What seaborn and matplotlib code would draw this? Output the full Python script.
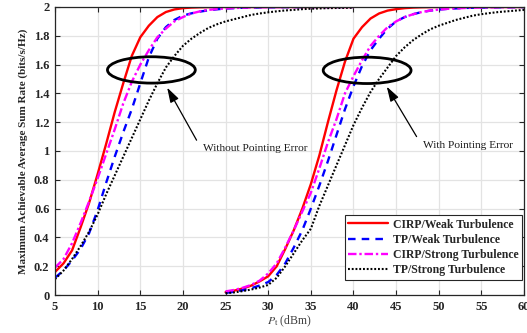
import numpy as np
import pandas as pd
import matplotlib
matplotlib.use("Agg")
import matplotlib.pyplot as plt
from matplotlib.patches import Ellipse
import seaborn as sns

# Transmit power grids (dBm)
pt_no_pe = list(range(5, 41))
pt_pe = list(range(25, 61))

# Achievable sum rate without pointing error (bits/s/Hz)
cirp_weak_no_pe = [0.16, 0.22, 0.31, 0.47, 0.64, 0.84, 1.05, 1.27, 1.47, 1.66, 1.79, 1.87,
                   1.93, 1.965, 1.983, 1.992, 1.996, 1.998, 1.999, 2.0, 2.0, 2.0, 2.0, 2.0,
                   2.0, 2.0, 2.0, 2.0, 2.0, 2.0, 2.0, 2.0, 2.0, 2.0, 2.0, 2.0]
tp_weak_no_pe = [0.12, 0.17, 0.24, 0.32, 0.43, 0.59, 0.78, 0.96, 1.13, 1.29, 1.47, 1.65,
                 1.78, 1.86, 1.91, 1.94, 1.956, 1.968, 1.977, 1.984, 1.989, 1.992, 1.995,
                 1.996, 1.997, 1.998, 1.998, 1.999, 1.999, 1.999, 2.0, 2.0, 2.0, 2.0, 2.0, 2.0]
cirp_strong_no_pe = [0.19, 0.25, 0.36, 0.50, 0.65, 0.81, 0.98, 1.15, 1.33, 1.48, 1.60, 1.70,
                     1.79, 1.85, 1.90, 1.93, 1.955, 1.97, 1.98, 1.986, 1.99, 1.993, 1.995,
                     1.997, 1.998, 1.998, 1.999, 1.999, 1.999, 2.0, 2.0, 2.0, 2.0, 2.0, 2.0, 2.0]
tp_strong_no_pe = [0.11, 0.17, 0.25, 0.34, 0.44, 0.56, 0.70, 0.83, 0.96, 1.09, 1.22, 1.35,
                   1.47, 1.58, 1.66, 1.73, 1.78, 1.82, 1.855, 1.88, 1.90, 1.915, 1.93, 1.945,
                   1.955, 1.963, 1.97, 1.976, 1.98, 1.985, 1.988, 1.99, 1.992, 1.993, 1.994, 1.995]

# Achievable sum rate with pointing error (bits/s/Hz)
cirp_weak_pe = [0.02, 0.03, 0.045, 0.065, 0.095, 0.13, 0.20, 0.32, 0.45, 0.60, 0.77, 0.97,
                1.20, 1.42, 1.62, 1.78, 1.86, 1.92, 1.955, 1.975, 1.985, 1.992, 1.996, 1.998,
                1.999, 2.0, 2.0, 2.0, 2.0, 2.0, 2.0, 2.0, 2.0, 2.0, 2.0, 2.0]
tp_weak_pe = [0.015, 0.022, 0.033, 0.047, 0.066, 0.09, 0.14, 0.22, 0.33, 0.45, 0.60, 0.76,
              0.93, 1.11, 1.29, 1.45, 1.59, 1.70, 1.78, 1.85, 1.90, 1.93, 1.95, 1.965, 1.975,
              1.982, 1.987, 1.99, 1.993, 1.995, 1.996, 1.997, 1.998, 1.998, 1.999, 1.999]
cirp_strong_pe = [0.025, 0.035, 0.05, 0.07, 0.10, 0.15, 0.22, 0.33, 0.45, 0.58, 0.71, 0.88,
                  1.06, 1.22, 1.40, 1.52, 1.63, 1.73, 1.80, 1.86, 1.90, 1.93, 1.95, 1.965,
                  1.975, 1.982, 1.987, 1.99, 1.993, 1.995, 1.996, 1.997, 1.998, 1.998, 1.999, 1.999]
tp_strong_pe = [0.012, 0.018, 0.027, 0.038, 0.052, 0.07, 0.12, 0.20, 0.29, 0.38, 0.46, 0.62,
                0.76, 0.90, 1.04, 1.18, 1.30, 1.41, 1.50, 1.58, 1.66, 1.72, 1.77, 1.81, 1.845,
                1.87, 1.89, 1.91, 1.925, 1.94, 1.95, 1.958, 1.965, 1.97, 1.975, 1.98]

labels = ["CIRP/Weak Turbulence", "TP/Weak Turbulence",
          "CIRP/Strong Turbulence", "TP/Strong Turbulence"]

series = {
    labels[0]: (cirp_weak_no_pe, cirp_weak_pe),
    labels[1]: (tp_weak_no_pe, tp_weak_pe),
    labels[2]: (cirp_strong_no_pe, cirp_strong_pe),
    labels[3]: (tp_strong_no_pe, tp_strong_pe),
}

rows = []
for name, (no_pe, pe) in series.items():
    for p, r in zip(pt_no_pe, no_pe):
        rows.append({"Pt": p, "rate": r, "scheme": name, "case": "no_pe"})
    for p, r in zip(pt_pe, pe):
        rows.append({"Pt": p, "rate": r, "scheme": name, "case": "pe"})
df = pd.DataFrame(rows)

styles = {
    labels[0]: dict(color="#ff0000", linestyle="-", linewidth=1.7),
    labels[1]: dict(color="#0000ff", linestyle=(0, (3.2, 2.6)), linewidth=1.7),
    labels[2]: dict(color="#ff00ff", linestyle=(0, (3.6, 1.2, 1.0, 1.2)), linewidth=1.7),
    labels[3]: dict(color="#000000", linestyle=(0, (0.9, 0.9)), linewidth=1.5),
}

sns.set_style("whitegrid")
plt.rcParams["font.family"] = ["Liberation Serif", "DejaVu Serif"]
plt.rcParams["mathtext.fontset"] = "stix"

fig = plt.figure(figsize=(5.27, 3.33), dpi=100)
ax = fig.add_axes([0.1044, 0.1141, 0.890, 0.8649])

handles = []
for name in labels:
    for case in ["no_pe", "pe"]:
        sub = df[(df["scheme"] == name) & (df["case"] == case)]
        sns.lineplot(data=sub, x="Pt", y="rate", ax=ax, estimator=None,
                     sort=True, legend=False, **styles[name])
    handles.append(ax.lines[-1])

ax.set_xlim(5, 60)
ax.set_ylim(0, 2)
ax.set_xticks(np.arange(5, 61, 5))
ax.set_yticks(np.round(np.arange(0, 2.01, 0.2), 1))
ax.set_yticklabels(["0", "0.2", "0.4", "0.6", "0.8", "1", "1.2", "1.4", "1.6", "1.8", "2"])

ax.grid(True, color="#e3e3e3", linewidth=0.9)
ax.set_facecolor("white")
for sp in ax.spines.values():
    sp.set_color("#262626")
    sp.set_linewidth(0.9)
    sp.set_visible(True)

ax.tick_params(axis="both", which="both", direction="in", length=3.5, width=0.8,
               top=True, right=True, bottom=True, left=True, color="#262626",
               labelsize=9, pad=4, labelcolor="#262626")
for lab in ax.get_xticklabels() + ax.get_yticklabels():
    lab.set_fontweight("bold")

ax.set_xlabel(r"$P_{\mathrm{t}}$ (dBm)", fontsize=8.5, color="#404040", labelpad=1)
ax.set_ylabel("Maximum Achievable Average Sum Rate (bits/s/Hz)", fontsize=8,
              fontweight="bold", color="#262626", labelpad=4)

# Ellipses grouping the curves, with arrows and captions
for cx, cy in [(16.3, 1.563), (41.6, 1.56)]:
    ax.add_patch(Ellipse((cx, cy), 10.3, 0.183, fill=False, edgecolor="black",
                         linewidth=2.0, zorder=5))

arrow_style = dict(arrowstyle="-|>,head_length=0.9,head_width=0.28",
                   color="black", lw=0.9, shrinkA=0, shrinkB=0)
ax.annotate("", xy=(18.15, 1.44), xytext=(21.6, 1.075), arrowprops=arrow_style, zorder=6)
ax.text(22.3, 1.02, "Without Pointing Error", fontsize=8.2, ha="left", va="center",
        color="#1a1a1a")
ax.annotate("", xy=(43.9, 1.447), xytext=(47.4, 1.10), arrowprops=arrow_style, zorder=6)
ax.text(48.1, 1.04, "With Pointing Error", fontsize=8.2, ha="left", va="center",
        color="#1a1a1a")

leg = ax.legend(handles, labels, loc="lower right", bbox_to_anchor=(0.996, 0.052),
                borderaxespad=0, fancybox=False, framealpha=1, edgecolor="#262626",
                prop={"weight": "bold", "size": 8.5}, handlelength=3.4,
                labelspacing=0.28, borderpad=0.3, handletextpad=0.4)
leg.get_frame().set_linewidth(0.8)

fig.savefig("out.png", dpi=100)
